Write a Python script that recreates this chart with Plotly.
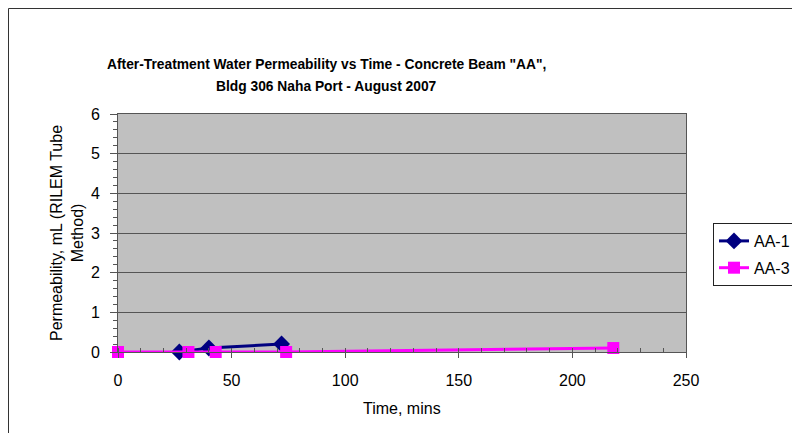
import plotly.graph_objects as go

# tempo (min) e permeabilidade (mL)
aa1_tempo = [27, 40, 72]
aa1_perm = [0.0, 0.1, 0.2]

aa3_tempo = [0, 31, 43, 74, 218]
aa3_perm = [0.0, 0.0, 0.0, 0.0, 0.1]

titulo_l1 = 'After-Treatment Water Permeability vs Time - Concrete Beam "AA",'
titulo_l2 = 'Bldg 306 Naha Port - August 2007'

fonte = 'Liberation Sans, Arial, sans-serif'
ws, hs = 800, 433
# a página tem 8px de margem no body, então tudo é deslocado
off = 8
ml, mr, mt, mb = 118 - off, 800 - (686 - off), 114 - off, 433 - (352 - off)
pw, ph = ws - ml - mr, hs - mt - mb

def px_x(x):
    return (x - off - ml) / pw

def px_y(y):
    return (hs - mb - (y - off)) / ph

data = [go.Scatter(x=aa1_tempo, y=aa1_perm, name='AA-1', legendgroup='a',
                   mode='lines+markers', cliponaxis=False,
                   line=dict(color='#000080', width=3),
                   marker=dict(symbol='diamond', size=13, color='#000080')),
        go.Scatter(x=aa3_tempo, y=aa3_perm, name='AA-3', legendgroup='b',
                   mode='lines+markers', cliponaxis=False,
                   line=dict(color='#FF00FF', width=3),
                   marker=dict(symbol='square', size=12, color='#FF00FF'))]

fig = go.Figure(data)

titulo_fonte = dict(family=fonte, size=13.8, color='black', weight='bold')

fig.update_layout(width=ws, height=hs,
                  margin=dict(l=ml, r=mr, t=mt, b=mb),
                  paper_bgcolor='white',
                  plot_bgcolor='#C0C0C0',
                  font=dict(family=fonte, color='black', size=16),
                  legend=dict(x=px_x(713), y=px_y(223), xanchor='left', yanchor='top',
                              bordercolor='#222222', borderwidth=1,
                              bgcolor='white', tracegroupgap=3,
                              font=dict(size=16)),
                  annotations=[dict(text=titulo_l1, xref='paper', yref='paper',
                                    x=px_x(326), y=px_y(64), showarrow=False,
                                    xanchor='center', yanchor='middle', font=titulo_fonte),
                               dict(text=titulo_l2, xref='paper', yref='paper',
                                    x=px_x(326), y=px_y(87), showarrow=False,
                                    xanchor='center', yanchor='middle', font=titulo_fonte),
                               dict(text='Time, mins', xref='paper', yref='paper',
                                    x=px_x(402), y=px_y(408), showarrow=False,
                                    xanchor='center', yanchor='middle', font=dict(size=16)),
                               dict(text='Permeability, mL (RILEM Tube<br>Method)',
                                    xref='paper', yref='paper', textangle=-90,
                                    x=px_x(67), y=px_y(233), showarrow=False,
                                    xanchor='center', yanchor='middle', font=dict(size=16))],
                  shapes=[dict(type='rect', xref='paper', yref='paper',
                               x0=px_x(8.5), x1=px_x(830), y0=px_y(460), y1=px_y(8.5),
                               line=dict(color='#333333', width=1), layer='below')])

fig.update_xaxes(range=[0, 250], dtick=50, showgrid=False, zeroline=False,
                 showline=True, linecolor='#555555', linewidth=1,
                 ticks='outside', ticklen=5, tickcolor='#555555',
                 ticklabelstandoff=9, automargin=False,
                 minor=dict(dtick=10, ticks='inside', ticklen=4, tickcolor='#555555'),
                 mirror=True)

fig.update_yaxes(range=[0, 6], dtick=1, showgrid=True, gridcolor='#555555', gridwidth=1,
                 zeroline=False, showline=True, linecolor='#555555', linewidth=1,
                 ticks='outside', ticklen=7, tickcolor='#555555',
                 ticklabelstandoff=7, automargin=False,
                 minor=dict(dtick=0.2, ticks='outside', ticklen=4, tickcolor='#555555'),
                 mirror=True)

fig.write_html('out.html')
